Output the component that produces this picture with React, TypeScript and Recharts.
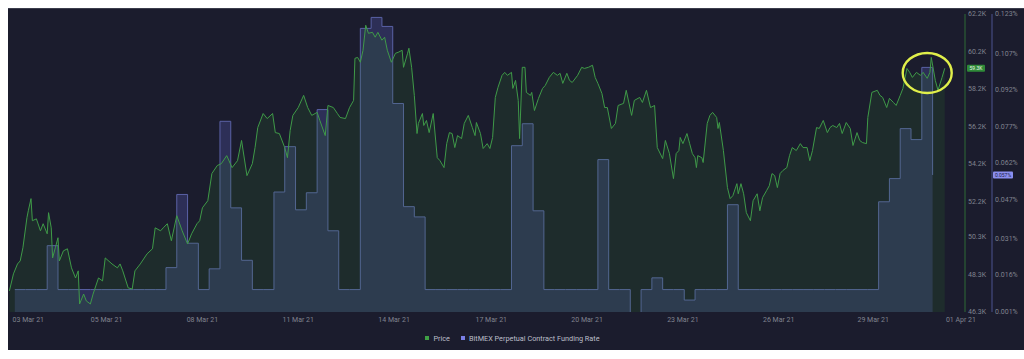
import { ComposedChart, Area, XAxis, YAxis, Legend, ReferenceLine, ReferenceDot } from "recharts";

// Price (K USD); hours since 02 Mar 21 00:00
const PRICE_HOURS = [
  4, 7, 10, 12, 14, 17, 18, 20, 21, 24,
  27, 29, 32, 33, 35, 36, 38, 40, 41, 44,
  47, 50, 53, 55, 56, 59, 61, 64, 66, 70,
  73, 75, 80, 84, 86, 88, 92, 95, 97, 101,
  106, 110, 112, 116, 118, 121, 124, 128, 132, 136,
  139, 143, 145, 147, 151, 154, 158, 161, 165, 169,
  173, 176, 180, 184, 186, 188, 192, 195, 199, 201,
  204, 208, 210, 212, 214, 218, 222, 225, 228, 232,
  234, 238, 240, 244, 247, 249, 253, 256, 259, 260,
  262, 264, 266, 268, 270, 273, 275, 277, 280, 282,
  284, 287, 290, 292, 295, 296, 299, 300, 302, 304,
  306, 307, 310, 311, 313, 315, 318, 321, 323, 326,
  328, 330, 332, 334, 336, 339, 341, 344, 347, 349,
  350, 353, 355, 358, 360, 362, 364, 366, 369, 371,
  373, 376, 377, 379, 381, 382, 384, 386, 387, 390,
  391, 393, 396, 399, 401, 404, 407, 410, 412, 414,
  417, 419, 421, 425, 428, 430, 433, 436, 438, 440,
  443, 445, 447, 450, 453, 455, 459, 461, 465, 467,
  471, 473, 476, 479, 482, 484, 488, 490, 493, 496,
  498, 500, 501, 503, 506, 508, 510, 512, 513, 514,
  517, 518, 521, 523, 525, 528, 529, 530, 533, 536,
  538, 540, 543, 544, 546, 548, 550, 553, 555, 558,
  560, 562, 565, 567, 569, 571, 573, 575, 577, 580,
  582, 584, 587, 590, 592, 595, 597, 599, 602, 604,
  607, 610, 612, 614, 617, 619, 621, 624, 627, 629,
  632, 634, 636, 639, 640, 643, 647, 649, 651, 654,
  656, 659, 661, 664, 666, 669, 671, 673, 676, 679,
  681, 684, 686, 687, 690, 692, 695, 697,
];
const PRICE_K = [
  47.4, 48.31, 48.84, 49.0, 49.7, 51.31, 51.68, 52.33, 51.15, 51.25,
  50.61, 50.99, 50.45, 51.58, 50.77, 49.16, 49.7, 50.24, 49.0, 49.54,
  49.65, 48.63, 48.09, 48.47, 46.7, 47.23, 46.86, 46.7, 47.23, 48.09,
  47.93, 49.16, 48.84, 48.63, 48.84, 48.47, 47.56, 47.5, 48.47, 48.84,
  49.38, 49.65, 50.77, 50.61, 50.77, 50.99, 50.08, 51.42, 50.61, 49.91,
  50.45, 50.99, 51.15, 51.84, 52.22, 53.67, 54.1, 54.2, 54.63, 53.99,
  54.36, 55.44, 53.56, 54.2, 55.06, 56.13, 56.88, 56.61, 56.88, 55.86,
  55.81, 55.06, 54.52, 55.97, 56.78, 57.2, 57.85, 57.2, 56.78, 56.94,
  56.51, 55.7, 57.31, 57.2, 56.88, 56.67, 56.61, 57.2, 57.58, 59.83,
  59.88, 59.62, 60.26, 61.6, 61.17, 61.22, 60.96, 61.22, 60.8, 60.96,
  60.26, 59.62, 60.1, 60.15, 60.26, 59.35, 60.1, 60.37, 59.35, 57.85,
  55.81, 56.35, 56.88, 56.24, 56.51, 55.86, 56.88, 54.52, 54.36, 53.99,
  55.27, 55.86, 55.81, 55.06, 55.7, 55.54, 56.35, 56.78, 56.13, 55.7,
  56.4, 55.81, 55.01, 55.27, 55.01, 55.6, 57.74, 58.28, 58.92, 59.08,
  58.92, 59.08, 58.22, 58.65, 57.58, 55.54, 59.35, 59.35, 58.01, 57.85,
  58.01, 57.04, 57.69, 58.22, 58.38, 58.81, 59.08, 58.92, 59.03, 58.49,
  59.03, 58.65, 58.54, 58.92, 59.35, 59.29, 59.35, 59.46, 58.81, 58.49,
  57.95, 57.2, 57.2, 56.08, 56.35, 57.31, 57.42, 58.12, 56.78, 57.58,
  57.74, 57.47, 58.12, 57.2, 57.31, 55.06, 54.47, 55.44, 54.74, 53.4,
  54.74, 54.9, 55.6, 55.27, 55.81, 55.27, 54.74, 54.52, 53.99, 54.63,
  54.52, 54.26, 56.35, 56.78, 56.94, 56.67, 56.08, 56.4, 54.9, 52.92,
  52.33, 52.49, 53.13, 52.59, 53.13, 52.59, 51.58, 51.15, 52.22, 52.59,
  51.68, 52.38, 52.76, 53.02, 53.67, 53.56, 52.92, 53.67, 53.83, 53.99,
  54.63, 55.06, 54.9, 55.27, 55.06, 55.06, 54.36, 54.9, 56.13, 56.08,
  56.51, 55.86, 56.13, 56.24, 56.13, 56.35, 55.81, 56.4, 56.08, 55.17,
  55.86, 55.44, 55.33, 55.27, 56.67, 58.01, 58.12, 57.85, 57.74, 57.2,
  57.69, 57.47, 57.31, 57.85, 58.22, 59.29, 59.08, 58.81, 59.08, 58.92,
  59.08, 58.76, 59.08, 59.88, 58.65, 58.12, 58.81, 59.3,
];

// BitMEX funding rate (%), one value every 8 hours
const FUNDING_START_HOUR = 8;
const FUNDING_STEP_HOURS = 8;
const FUNDING_RATE = [
  0.01, 0.01, 0.01, 0.028, 0.01, 0.01, 0.01, 0.01, 0.01, 0.01,
  0.01, 0.01, 0.01, 0.01, 0.019, 0.049, 0.029, 0.01, 0.0185, 0.079,
  0.0435, 0.022, 0.01, 0.01, 0.05, 0.0686, 0.0427, 0.0497, 0.0838, 0.0341,
  0.01, 0.01, 0.1171, 0.1216, 0.1179, 0.0863, 0.044, 0.0398, 0.01, 0.01,
  0.01, 0.01, 0.01, 0.01, 0.01, 0.01, 0.069, 0.078, 0.0423, 0.01,
  0.01, 0.01, 0.01, 0.01, 0.0633, 0.01, 0.01, -0.006, 0.01, 0.0148,
  0.01, 0.01, 0.0057, 0.01, 0.01, 0.01, 0.0448, 0.01, 0.01, 0.01,
  0.01, 0.01, 0.01, 0.01, 0.01, 0.01, 0.01, 0.01, 0.01, 0.01,
  0.046, 0.0555, 0.076, 0.0715, 0.1011, 0.057,
];

const X_TICKS = [18, 76, 147, 218, 289, 361, 432, 503, 574, 644, 709];
const X_TICK_LABELS = [
  "03 Mar 21", "05 Mar 21", "08 Mar 21", "11 Mar 21", "14 Mar 21", "17 Mar 21",
  "20 Mar 21", "23 Mar 21", "26 Mar 21", "29 Mar 21", "01 Apr 21",
];
const PRICE_TICKS = [46.3, 48.3, 50.3, 52.2, 54.2, 56.2, 58.2, 60.2, 62.2];
const FUNDING_TICKS = [0.001, 0.016, 0.031, 0.047, 0.062, 0.077, 0.092, 0.107, 0.123];

const LAST_PRICE = 59.3;
const LAST_FUNDING = 0.057;
const HIGHLIGHT_HOUR = 684;
const HIGHLIGHT_PRICE = 59.05;

const LEGEND_ITEMS = [
  { name: "Price", color: "#3f9f45" },
  { name: "BitMEX Perpetual Contract Funding Rate", color: "#7a7fe6" },
];

const FONT = "Roboto, 'Noto Sans', sans-serif";
const BG = "#1b1c2d";
const AXIS_TEXT = "#80838f";

// axis ids: the price axis sits next to the plot, funding outside it
const PRICE_AXIS = "axisA";
const FUNDING_AXIS = "axisB";

const priceData = PRICE_HOURS.map((t, i) => ({ t, price: PRICE_K[i] }));
const fundingData = FUNDING_RATE.map((rate, i) => ({
  t: FUNDING_START_HOUR + i * FUNDING_STEP_HOURS,
  rate,
}));

function ValueTag(props: any) {
  const { viewBox, text, fill, color, dx, w } = props;
  if (!viewBox) return null;
  const left = viewBox.x + viewBox.width + dx;
  const y = viewBox.y;
  return (
    <g>
      <rect x={left} y={y - 3.5} width={w} height={7} fill={fill} rx={1} />
      <text x={left + w / 2} y={y} dy="0.35em" textAnchor="middle" fontSize={5} fill={color} fontFamily={FONT}>
        {text}
      </text>
    </g>
  );
}

function LegendRow() {
  return (
    <div
      style={{
        display: "flex",
        justifyContent: "center",
        alignItems: "center",
        gap: 11,
        height: 14,
        paddingRight: 8,
        fontSize: 7.3,
        color: "#bcbfc9",
        fontFamily: FONT,
      }}
    >
      {LEGEND_ITEMS.map((item) => (
        <span key={item.name} style={{ display: "flex", alignItems: "center" }}>
          <span style={{ width: 4, height: 4, background: item.color, marginRight: 4 }} />
          {item.name}
        </span>
      ))}
    </div>
  );
}

export default function App() {
  return (
    <div
      style={{
        position: "fixed",
        left: 8,
        top: 8,
        width: 1016,
        height: 341,
        background: BG,
        borderTop: "1px solid #3b3d4c",
      }}
    >
      <ComposedChart width={1016} height={341} margin={{ top: 5, right: 0, bottom: 0, left: 1 }} style={{ fontFamily: FONT }}>
        <XAxis
          dataKey="t"
          type="number"
          domain={[3.7, 712]}
          allowDataOverflow
          ticks={X_TICKS}
          interval={0}
          tickFormatter={(v: number) => X_TICK_LABELS[X_TICKS.indexOf(v)]}
          tick={{ fill: AXIS_TEXT, fontSize: 7 }}
          tickLine={false}
          axisLine={false}
          tickSize={0}
          tickMargin={5}
          height={24}
        />
        <YAxis
          yAxisId={PRICE_AXIS}
          orientation="right"
          type="number"
          domain={[46.27, 62.2]}
          allowDataOverflow
          ticks={PRICE_TICKS}
          interval={0}
          tickFormatter={(v: number) => v.toFixed(1) + "K"}
          width={27}
          axisLine={{ stroke: "#2f6a36" }}
          tickLine={false}
          tickSize={0}
          tickMargin={3}
          tick={{ fill: AXIS_TEXT, fontSize: 7 }}
        />
        <YAxis
          yAxisId={FUNDING_AXIS}
          orientation="right"
          type="number"
          domain={[0.0008, 0.123]}
          allowDataOverflow
          ticks={FUNDING_TICKS}
          interval={0}
          tickFormatter={(v: number) => v.toFixed(3) + "%"}
          width={32}
          axisLine={{ stroke: "#4d5290" }}
          tickLine={false}
          tickSize={0}
          tickMargin={3}
          tick={{ fill: AXIS_TEXT, fontSize: 7 }}
        />
        <Area
          data={fundingData}
          dataKey="rate"
          name="BitMEX Perpetual Contract Funding Rate"
          yAxisId={FUNDING_AXIS}
          type="stepAfter"
          stroke="#5a62a6"
          strokeWidth={1}
          fill="#6a6fe6"
          fillOpacity={0.23}
          dot={false}
          activeDot={false}
          isAnimationActive={false}
        />
        <Area
          data={priceData}
          dataKey="price"
          name="Price"
          yAxisId={PRICE_AXIS}
          type="linear"
          stroke="#3f9a48"
          strokeWidth={1}
          fill="#2f7a28"
          fillOpacity={0.17}
          dot={false}
          activeDot={false}
          isAnimationActive={false}
        />
        <ReferenceLine
          yAxisId={PRICE_AXIS}
          y={LAST_PRICE}
          stroke="none"
          label={(p: any) => <ValueTag viewBox={p.viewBox} text={LAST_PRICE.toFixed(1) + "K"} fill="#2f8a38" color="#e8f5e9" dx={2} w={18} />}
        />
        <ReferenceLine
          yAxisId={FUNDING_AXIS}
          y={LAST_FUNDING}
          stroke="none"
          label={(p: any) => <ValueTag viewBox={p.viewBox} text={LAST_FUNDING.toFixed(3) + "%"} fill="#8b8ff0" color="#1d1f45" dx={28} w={20} />}
        />
        <ReferenceDot
          yAxisId={PRICE_AXIS}
          x={HIGHLIGHT_HOUR}
          y={HIGHLIGHT_PRICE}
          shape={(p: any) => (
            <ellipse cx={p.cx} cy={p.cy} rx={24.5} ry={20} fill="none" stroke="#e0ef4a" strokeWidth={2.4} />
          )}
        />
        <Legend verticalAlign="bottom" wrapperStyle={{ bottom: 5, height: 14 }} content={() => <LegendRow />} />
      </ComposedChart>
    </div>
  );
}
